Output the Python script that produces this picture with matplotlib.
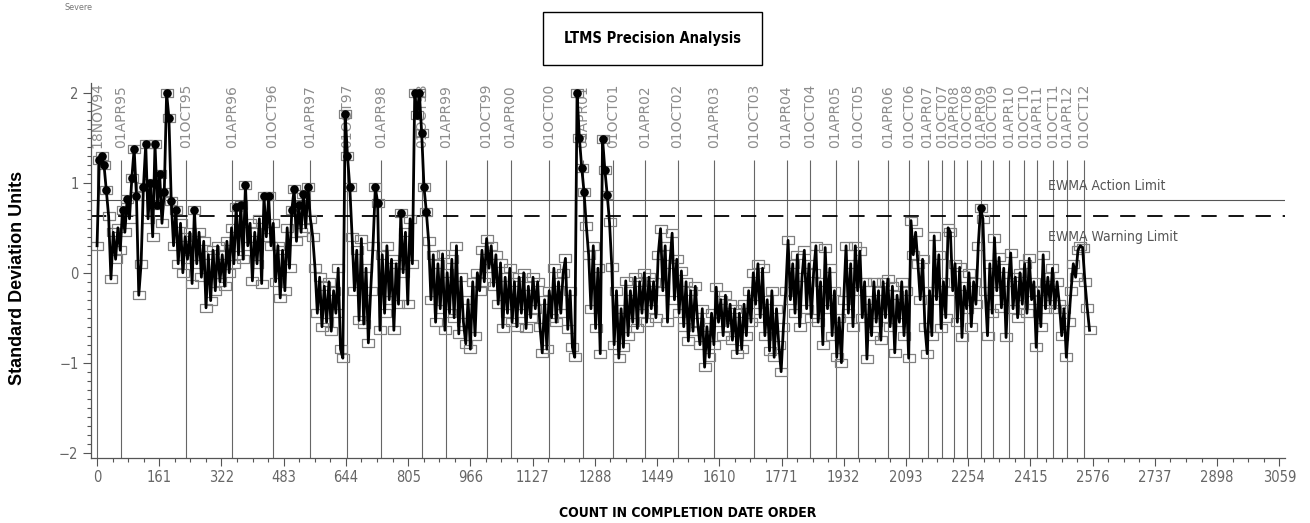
import numpy as np
import matplotlib.pyplot as plt
from matplotlib.patches import Rectangle

# EWMA standardized values, one reading every 6 tests in completion order
sd_units = [
    0.30, 1.25, 1.30, 1.20, 0.92, 0.63, -0.07, 0.45, 0.15, 0.50, 0.25, 0.70, 0.45, 0.82, 0.60, 1.05, 1.38, 0.85, -0.25, 0.10,
    0.95, 1.43, 0.60, 1.00, 0.40, 1.43, 0.75, 1.10, 0.55, 0.90, 2.00, 1.72, 0.80, 0.30, 0.70, 0.10, 0.55, 0.00, 0.40, 0.15,
    0.45, -0.12, 0.70, 0.10, 0.45, -0.05, 0.35, -0.39, 0.20, -0.31, 0.25, -0.20, 0.30, -0.10, 0.20, -0.15, 0.35, 0.00, 0.50, 0.10,
    0.73, 0.20, 0.75, 0.15, 0.98, 0.30, 0.55, -0.09, 0.45, 0.10, 0.60, -0.12, 0.85, 0.40, 0.85, 0.30, 0.55, -0.10, 0.30, -0.28,
    0.25, -0.20, 0.50, 0.05, 0.70, 0.93, 0.35, 0.75, 0.45, 0.88, 0.50, 0.95, 0.60, 0.40, 0.05, -0.45, -0.05, -0.60, -0.15, -0.55,
    -0.10, -0.65, -0.20, -0.45, 0.05, -0.85, -0.95, 1.77, 1.30, 0.95, 0.40, -0.20, 0.25, -0.53, 0.38, -0.57, 0.05, -0.78, -0.20, 0.30,
    0.95, 0.78, -0.64, 0.20, -0.45, 0.30, -0.30, 0.15, -0.64, 0.10, -0.35, 0.66, 0.00, 0.45, -0.35, 0.60, 0.10, 2.00, 1.75, 2.00,
    1.55, 0.95, 0.68, 0.35, -0.30, 0.20, -0.55, 0.10, -0.40, 0.21, -0.64, 0.00, -0.45, 0.15, -0.50, 0.30, -0.68, -0.05, -0.55, -0.79,
    -0.30, -0.85, -0.10, -0.70, 0.00, -0.20, 0.25, -0.10, 0.38, 0.05, 0.30, -0.15, 0.20, -0.35, 0.11, -0.61, -0.05, -0.45, 0.05, -0.55,
    -0.10, -0.60, -0.05, -0.45, 0.00, -0.62, -0.15, -0.50, -0.05, -0.40, -0.10, -0.60, -0.89, -0.30, -0.85, -0.20, -0.50, 0.05, -0.55, -0.10,
    -0.45, 0.00, 0.16, -0.63, -0.20, -0.83, -0.94, 2.00, 1.50, 1.17, 0.90, 0.52, 0.20, -0.40, 0.30, -0.62, 0.05, -0.90, 1.49, 1.14,
    0.87, 0.56, 0.06, -0.80, -0.20, -0.95, -0.40, -0.83, -0.09, -0.70, -0.20, -0.55, -0.05, -0.62, -0.10, -0.45, 0.00, -0.55, -0.05, -0.40,
    -0.10, -0.50, 0.20, 0.49, -0.20, 0.30, -0.55, 0.10, 0.44, -0.30, 0.15, -0.45, 0.02, -0.60, -0.10, -0.76, -0.20, -0.65, -0.15, -0.55,
    -0.80, -0.40, -1.05, -0.60, -0.94, -0.45, -0.80, -0.16, -0.55, -0.30, -0.70, -0.25, -0.60, -0.35, -0.75, -0.40, -0.90, -0.45, -0.85, -0.35,
    -0.70, -0.20, -0.55, 0.00, -0.35, 0.10, -0.50, 0.05, -0.70, -0.30, -0.87, -0.20, -0.94, -0.40, -0.80, -1.10, -0.60, -0.20, 0.36, -0.30,
    0.10, -0.45, 0.20, -0.60, -0.05, 0.25, -0.40, 0.10, -0.50, 0.00, 0.30, -0.55, -0.10, -0.80, 0.28, -0.40, 0.05, -0.70, -0.20, -0.94,
    -0.50, -1.00, -0.30, 0.30, -0.45, 0.10, -0.60, 0.30, -0.20, 0.24, -0.50, -0.10, -0.96, -0.30, -0.70, -0.10, -0.55, -0.20, -0.75, -0.10,
    -0.50, -0.07, -0.60, -0.15, -0.89, -0.25, -0.55, -0.10, -0.70, -0.20, -0.95, 0.58, 0.20, 0.45, 0.10, -0.30, 0.15, -0.60, -0.90, -0.20,
    -0.70, 0.41, -0.30, 0.20, -0.62, -0.10, -0.50, 0.50, 0.45, -0.20, 0.10, -0.55, 0.06, -0.72, -0.15, -0.40, 0.00, -0.60, -0.10, -0.35,
    0.30, 0.72, 0.60, -0.20, -0.70, 0.10, -0.45, 0.39, -0.20, 0.17, -0.39, 0.05, -0.72, -0.10, 0.22, -0.40, -0.05, -0.50, 0.00, -0.35,
    0.10, -0.45, 0.16, -0.30, -0.10, -0.83, -0.20, -0.60, 0.20, -0.40, -0.05, -0.35, 0.05, -0.40, -0.10, -0.35, -0.70, -0.40, -0.94, -0.55,
    -0.20, 0.10, -0.05, 0.25, 0.30, 0.28, -0.10, -0.39, -0.64,
]
count_step = 6

date_labels = ['18NOV94', '01APR95', '01OCT95', '01APR96', '01OCT96', '01APR97', '01OCT97', '01APR98',
               '01OCT98', '01APR99', '01OCT99', '01APR00', '01OCT00', '01APR01', '01OCT01', '01APR02',
               '01OCT02', '01APR03', '01OCT03', '01APR04', '01OCT04', '01APR05', '01OCT05', '01APR06',
               '01OCT06', '01APR07', '01OCT07', '01APR08', '01OCT08', '01APR09', '01OCT09', '01APR10',
               '01OCT10', '01APR11', '01OCT11', '01APR12', '01OCT12']
date_counts = [0, 63, 230, 350, 454, 551, 646, 736, 840, 902, 1008, 1070, 1170, 1258, 1336, 1419,
               1502, 1597, 1699, 1784, 1844, 1911, 1970, 2047, 2100, 2149, 2186, 2218, 2251, 2288,
               2317, 2360, 2399, 2432, 2474, 2510, 2553]

action_limit = 0.81
warning_limit = 0.63
x_ticks = [0, 161, 322, 483, 644, 805, 966, 1127, 1288, 1449, 1610, 1771, 1932, 2093, 2254,
           2415, 2576, 2737, 2898, 3059]

cond = dict(family='DejaVu Sans', stretch='condensed')
plt.rcParams['lines.scale_dashes'] = False

fig = plt.figure(figsize=(13.1, 5.23), dpi=100)
ax = fig.add_axes([0.0695, 0.1243, 0.9115, 0.717])

y = np.array(sd_units)
x = np.arange(len(y)) * count_step

# date reference lines and labels
ax.vlines(date_counts, -2.06, 1.256, colors='#666666', linewidth=0.8, zorder=1)
for d, lab in zip(date_counts, date_labels):
    ax.text(d, 1.39, lab, rotation=90, ha='center', va='bottom', fontsize=10,
            color='#8c8c8c', family='DejaVu Sans', zorder=1)

# EWMA limits
ax.axhline(action_limit, color='#555555', linewidth=0.8, zorder=1)
ln = ax.axhline(warning_limit, color='black', linewidth=1.3, zorder=1)
ln.set_dashes([11, 8.5])
ax.text(2461, 0.967, 'EWMA Action Limit', fontsize=10, color='#555555', va='center', **cond)
ax.text(2461, 0.40, 'EWMA Warning Limit', fontsize=10, color='#555555', va='center', **cond)

# series
box = [(-1, -0.7), (1, -0.7), (1, 0.7), (-1, 0.7), (-1, -0.7)]
ax.plot(x, y, color='black', linewidth=2.0, zorder=3)
ax.plot(x, y, linestyle='none', marker=box, markersize=9, markerfacecolor='none',
        markeredgecolor='#808080', markeredgewidth=0.9, zorder=2)
hi = y > warning_limit
ax.plot(x[hi], y[hi], linestyle='none', marker='o', markersize=5.2, color='black', zorder=4)

ax.set_xlim(-15.5, 3074)
ax.set_ylim(-2.06, 2.11)
ax.set_xticks(x_ticks)
ax.set_xticks(np.arange(0, 3060, 40.25), minor=True)
ax.set_yticks([-2, -1, 0, 1, 2])
ax.set_yticks(np.arange(-2, 2.01, 0.1), minor=True)
ax.set_yticklabels(['\u22122', '\u22121', '0', '1', '2'])
for s in ['top', 'right']:
    ax.spines[s].set_visible(False)
for s in ['left', 'bottom']:
    ax.spines[s].set_color('#555555')
    ax.spines[s].set_linewidth(0.9)
ax.tick_params(which='major', direction='out', length=5.5, width=0.8, color='#555555',
               labelcolor='#666666', labelsize=10.5)
ax.tick_params(which='minor', direction='out', length=3, width=0.8, color='#555555')
for lab in ax.get_xticklabels() + ax.get_yticklabels():
    lab.set_family('DejaVu Sans')
    lab.set_stretch('condensed')

# title box and axis titles
fig.patches.append(Rectangle((0.4145, 0.8757), 0.1672, 0.1013, transform=fig.transFigure,
                             fill=False, edgecolor='black', linewidth=1.0))
fig.text(0.498, 0.926, 'LTMS Precision Analysis', ha='center', va='center', fontsize=10.5,
         fontweight='bold', **cond)
fig.text(0.049, 0.985, 'Severe', ha='left', va='center', fontsize=6.5, color='#777777', **cond)
fig.text(0.013, 0.468, 'Standard Deviation Units', rotation=90, ha='center', va='center',
         fontsize=13, fontweight='bold', family=['Liberation Sans', 'DejaVu Sans'])
fig.text(0.525, 0.019, 'COUNT IN COMPLETION DATE ORDER', ha='center', va='center', fontsize=10,
         fontweight='bold', **cond)

plt.savefig('out.png', dpi=100)
